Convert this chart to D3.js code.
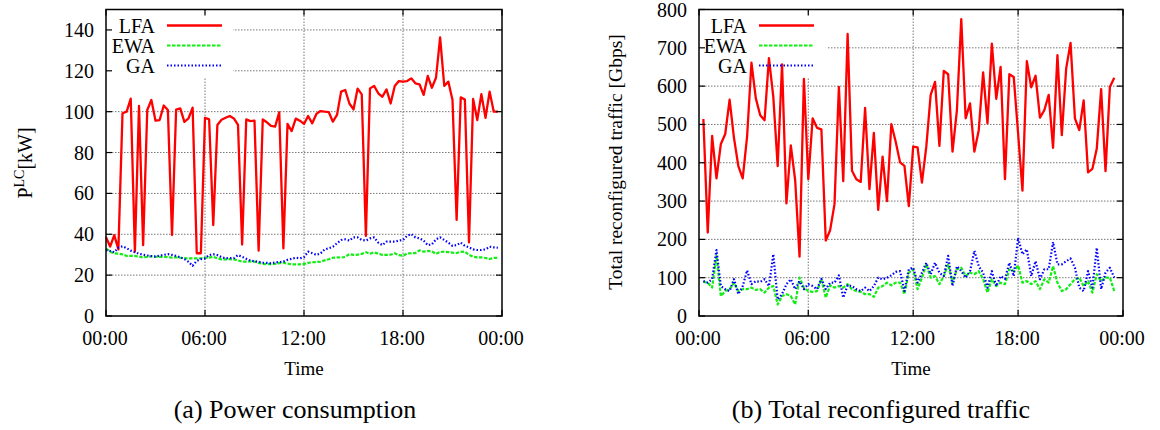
<!DOCTYPE html>
<html>
<head>
<meta charset="utf-8">
<script src="https://cdn.jsdelivr.net/npm/d3@7/dist/d3.min.js"></script>
<style>
    body { margin: 0; background: #fff; }
    svg { display: block; font-family: 'Liberation Serif', 'Times New Roman', serif; }
</style>
</head>
<body>
<div id="holder"></div>
<script>
// tick labels and series names
var timeLabels = ['00:00', '06:00', '12:00', '18:00', '00:00'];
var seriesNames = ['LFA', 'EWA', 'GA'];

// (a) power consumption, one value every 15 minutes [kW]
var powerTicks = [0, 24, 48, 72, 96];
var powerYTicks = [0, 20, 40, 60, 80, 100, 120, 140];
var powerLFA = [38.5, 34, 39.6, 32.6, 99.2, 100, 106.4, 31.5, 102.8, 34.7, 100.8, 105.7, 95.6, 95.9, 103, 100.8,
    39.6, 101, 101.6, 95, 96.7, 102, 30.7, 30.7, 97, 96.2, 44.5, 93.5, 96, 97, 97.9, 96.7,
    93.5, 35, 96.2, 95.4, 95.6, 32, 96.2, 94.8, 93, 92.7, 99.7, 33.1, 94, 90.5, 96.6, 95.6,
    94, 97.9, 94.3, 98.9, 100.3, 100, 99.8, 95.1, 98.4, 109.8, 110.6, 104, 101.1, 111.3, 108.5, 39.2,
    111.4, 112.6, 109, 107.3, 110.9, 104, 112.6, 115, 114.7, 115, 116.3, 113.9, 113.4, 108.2, 117.5, 111.7,
    116.6, 136.4, 112.6, 114.7, 105.7, 47, 107, 106, 36, 106.2, 95.9, 108.6, 97, 109.8, 100, 100];
var powerEWA = [33, 31.5, 30.7, 30.5, 30.2, 29.4, 29.4, 29.4, 29, 28.7, 28.9, 29.2, 29, 28.9, 29, 28.8,
    28.6, 28.7, 28.5, 28.3, 28.2, 28.2, 28.2, 28.2, 28.4, 28.6, 29, 28.2, 27.7, 27.7, 27.8, 27.7,
    27.2, 26.6, 26.6, 26.7, 26.6, 26, 25.5, 25.4, 25.4, 25.5, 25.9, 26.1, 25.6, 25.3, 25.3, 25.3,
    25.4, 26, 26.3, 26.4, 26.6, 27.2, 27.8, 28.5, 28.7, 28.6, 28.9, 30.3, 29.9, 30, 30.4, 31.2,
    30.5, 31.2, 30.5, 29.9, 29.9, 30, 30.7, 29.8, 29.5, 30.6, 30.7, 30.8, 32.1, 31.5, 31.8, 31.7,
    30.4, 31.3, 31.5, 31.3, 31, 30.8, 31.4, 31.5, 29.9, 29, 28.7, 28.7, 28.4, 27.9, 28.4, 28.5];
var powerGA = [32.3, 31.8, 31.2, 33.5, 34.1, 33.2, 32, 31.2, 30.5, 30, 29.6, 29.3, 29.1, 29.5, 29.9, 30.3,
    29.9, 29.4, 28.7, 27.9, 26.5, 24.6, 27, 27.8, 28.2, 29.8, 30.2, 29.8, 28.8, 28.2, 28.4, 28.3,
    29.8, 29, 28, 27.1, 26.8, 26.5, 26.1, 26, 25.8, 26.2, 26.4, 26.6, 27.5, 28, 28.5, 28.2,
    28.8, 31.5, 30.7, 29.9, 30.6, 32.6, 33.1, 33.9, 35.6, 37.2, 37.5, 36.9, 38.5, 38.5, 37.2, 36.9,
    38, 38.5, 35.9, 34.7, 36.4, 36.4, 36.4, 36.9, 37.2, 39.3, 40.1, 38.5, 38, 36.9, 34.7, 35,
    37.5, 38.5, 37.2, 35.9, 34.3, 34.7, 35.9, 34.3, 33.6, 32.6, 32.3, 32.3, 32.6, 33.9, 33.6, 33.4];

// (b) total reconfigured traffic, samples 1..95 [Gbps]
var trafficTicks = [0, 25, 49, 73, 97];
var trafficYTicks = [0, 100, 200, 300, 400, 500, 600, 700, 800];
var trafficLFA = [514, 218, 470, 359, 449, 475, 565, 465, 391, 359, 468, 661, 568, 524, 511, 673,
    572, 391, 657, 294, 445, 355, 155, 619, 357, 516, 491, 487, 197, 224, 292, 598,
    352, 736, 379, 357, 350, 543, 331, 478, 277, 416, 300, 501, 455, 401, 392, 287,
    442, 440, 348, 442, 577, 611, 444, 640, 631, 429, 537, 775, 516, 555, 429, 485,
    636, 503, 711, 567, 650, 357, 631, 624, 477, 327, 665, 597, 627, 518, 537, 577,
    439, 681, 472, 646, 713, 516, 485, 563, 375, 384, 437, 592, 378, 598, 622];
var trafficEWA = [89, 87, 74, 157, 52, 65, 70, 87, 65, 70, 70, 74, 68, 70, 61, 74,
    78, 30, 52, 57, 52, 30, 100, 74, 65, 63, 65, 96, 48, 80, 74, 78,
    74, 83, 70, 65, 63, 57, 57, 50, 74, 78, 87, 80, 87, 87, 57, 113,
    122, 70, 100, 135, 100, 104, 83, 104, 135, 87, 122, 126, 104, 113, 109, 117,
    96, 61, 96, 78, 87, 83, 122, 117, 132, 87, 91, 83, 91, 70, 96, 87,
    130, 87, 65, 70, 83, 96, 100, 78, 91, 61, 109, 91, 100, 100, 65];
var trafficGA = [91, 87, 96, 172, 78, 70, 65, 96, 57, 78, 119, 83, 91, 89, 96, 78,
    161, 43, 57, 83, 96, 70, 91, 70, 83, 78, 70, 97, 70, 87, 87, 106,
    48, 80, 78, 70, 65, 74, 65, 78, 100, 96, 100, 106, 115, 117, 65, 122,
    126, 87, 113, 139, 109, 139, 113, 104, 157, 78, 130, 117, 100, 117, 170, 130,
    113, 74, 117, 78, 104, 97, 139, 104, 204, 161, 174, 104, 143, 96, 122, 122,
    193, 135, 135, 143, 150, 126, 74, 65, 117, 74, 178, 70, 113, 126, 100];

var width = 1160;
var height = 430;

var svg = d3
    .select('#holder')
    .append('svg')
    .attr('width', width)
    .attr('height', height);

// line styles, gnuplot-like
var styles = {
    LFA: { color: '#ff0000', dash: null, width: 2.3 },
    EWA: { color: '#11ee11', dash: '3.5,1.5', width: 2.2 },
    GA: { color: '#0000ff', dash: '1.5,2', width: 2.2 }
};

function drawChart(opts) {
    var innerWidth = opts.right - opts.left;
    var innerHeight = opts.bottom - opts.top;

    var g = svg
        .append('g')
        .attr('transform', 'translate(' + opts.left + ',' + opts.top + ')');

    var x = d3.scaleLinear().domain(opts.xDomain).range([0, innerWidth]);
    var y = d3.scaleLinear().domain(opts.yDomain).range([innerHeight, 0]);

    // grid
    var grid = g.append('g').attr('class', 'grid');
    grid.selectAll('.hgrid')
        .data(opts.yTicks.slice(1))
        .enter()
        .append('line')
        .attr('x1', 0)
        .attr('x2', innerWidth)
        .attr('y1', function(d) { return y(d); })
        .attr('y2', function(d) { return y(d); });
    grid.selectAll('.vgrid')
        .data(opts.xTicks.slice(1, -1))
        .enter()
        .append('line')
        .attr('x1', function(d) { return x(d); })
        .attr('x2', function(d) { return x(d); })
        .attr('y1', 0)
        .attr('y2', innerHeight);
    grid.selectAll('line')
        .style('stroke', '#777')
        .style('stroke-width', 1)
        .style('stroke-dasharray', '1.5,1.5');

    // legend background hides the grid
    g.append('rect')
        .attr('x', 0)
        .attr('y', 4)
        .attr('width', opts.legendWidth)
        .attr('height', 64)
        .style('fill', '#fff');

    // series
    var line = d3.line()
        .x(function(d) { return x(d.t); })
        .y(function(d) { return y(d.v); });

    opts.series.forEach(function(s) {
        var pts = s.values.map(function(v, i) {
            return { t: i + opts.firstSample, v: v };
        });
        g.append('path')
            .datum(pts)
            .attr('d', line)
            .style('fill', 'none')
            .style('stroke', styles[s.name].color)
            .style('stroke-width', styles[s.name].width)
            .style('stroke-linejoin', 'round')
            .style('stroke-dasharray', styles[s.name].dash);
    });

    // legend
    var legend = g.append('g').attr('class', 'legend');
    var rows = legend.selectAll('.row')
        .data(seriesNames)
        .enter()
        .append('g')
        .attr('transform', function(d, i) {
            return 'translate(0,' + (16 + i * 20) + ')';
        });
    rows.append('text')
        .attr('x', opts.legendText)
        .attr('y', 7)
        .attr('text-anchor', 'end')
        .style('font-size', '20px')
        .text(function(d) { return d; });
    rows.append('line')
        .attr('x1', opts.legendText + 12)
        .attr('x2', opts.legendText + 67)
        .attr('y1', 0)
        .attr('y2', 0)
        .style('stroke', function(d) { return styles[d].color; })
        .style('stroke-width', function(d) { return styles[d].width; })
        .style('stroke-dasharray', function(d) { return styles[d].dash; });

    // frame
    g.append('rect')
        .attr('width', innerWidth)
        .attr('height', innerHeight)
        .style('fill', 'none')
        .style('stroke', '#000')
        .style('stroke-width', 1.5);

    // inward ticks on all sides
    var ticks = g.append('g').attr('class', 'ticks');
    opts.yTicks.forEach(function(d) {
        ticks.append('line').attr('x1', 0).attr('x2', 6).attr('y1', y(d)).attr('y2', y(d));
        ticks.append('line').attr('x1', innerWidth - 6).attr('x2', innerWidth).attr('y1', y(d)).attr('y2', y(d));
    });
    opts.xTicks.forEach(function(d) {
        ticks.append('line').attr('x1', x(d)).attr('x2', x(d)).attr('y1', innerHeight).attr('y2', innerHeight - 6);
        ticks.append('line').attr('x1', x(d)).attr('x2', x(d)).attr('y1', 0).attr('y2', 6);
    });
    ticks.selectAll('line').style('stroke', '#000').style('stroke-width', 1.2);

    // tick labels
    g.selectAll('.ylabel')
        .data(opts.yTicks)
        .enter()
        .append('text')
        .attr('x', -12)
        .attr('y', function(d) { return y(d) + 7; })
        .attr('text-anchor', 'end')
        .style('font-size', '20px')
        .text(function(d) { return d; });

    g.selectAll('.xlabel')
        .data(opts.xTicks)
        .enter()
        .append('text')
        .attr('x', function(d) { return x(d) - 1; })
        .attr('y', innerHeight + 29)
        .attr('text-anchor', 'middle')
        .style('font-size', '20px')
        .text(function(d, i) { return timeLabels[i]; });

    // axis titles
    g.append('text')
        .attr('x', innerWidth / 2)
        .attr('y', innerHeight + 59)
        .attr('text-anchor', 'middle')
        .style('font-size', '19px')
        .text('Time');

    var yTitle = svg.append('text')
        .attr('transform', 'translate(' + opts.yTitleX + ',' + opts.yTitleY + ') rotate(-90)')
        .attr('text-anchor', 'middle')
        .style('font-size', opts.yTitleSize);
    opts.yTitle(yTitle);

    // caption
    svg.append('text')
        .attr('x', opts.captionX)
        .attr('y', 418)
        .attr('text-anchor', 'middle')
        .style('font-size', '26px')
        .text(opts.caption);
}

drawChart({
    left: 106, right: 502, top: 9.5, bottom: 316,
    xDomain: [0, 96], yDomain: [0, 150],
    xTicks: powerTicks, yTicks: powerYTicks,
    firstSample: 0,
    series: [
        { name: 'LFA', values: powerLFA },
        { name: 'EWA', values: powerEWA },
        { name: 'GA', values: powerGA }
    ],
    legendWidth: 127, legendText: 49,
    yTitleX: 32, yTitleY: 163, yTitleSize: '20px',
    yTitle: function(t) {
        t.append('tspan').text('P');
        t.append('tspan').attr('dy', -8).style('font-size', '14px').text('LC');
        t.append('tspan').attr('dy', 8).text('[kW]');
    },
    captionX: 295,
    caption: '(a) Power consumption'
});

drawChart({
    left: 699, right: 1123, top: 9.5, bottom: 316,
    xDomain: [0, 97], yDomain: [0, 800],
    xTicks: trafficTicks, yTicks: trafficYTicks,
    firstSample: 1,
    series: [
        { name: 'LFA', values: trafficLFA },
        { name: 'EWA', values: trafficEWA },
        { name: 'GA', values: trafficGA }
    ],
    legendWidth: 128, legendText: 48,
    yTitleX: 622, yTitleY: 162, yTitleSize: '19.5px',
    yTitle: function(t) {
        t.text('Total reconfigured traffic [Gbps]');
    },
    captionX: 881,
    caption: '(b) Total reconfigured traffic'
});
</script>
</body>
</html>
